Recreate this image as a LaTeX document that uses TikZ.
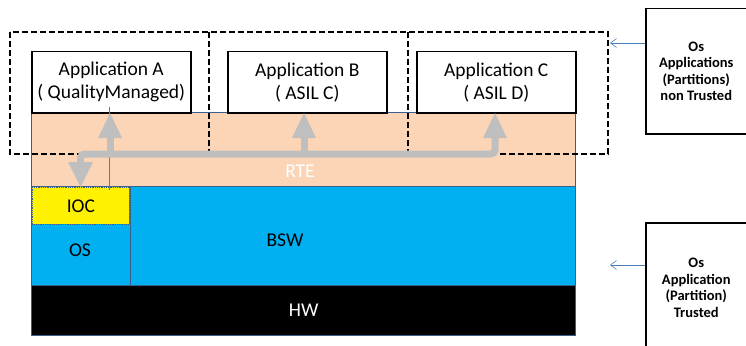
\documentclass[tikz,border=0pt]{standalone}
\usepackage{fontspec}
\setmainfont{Carlito}
\usetikzlibrary{arrows.meta}
\definecolor{rte}{HTML}{FBD5B5}
\definecolor{edge}{HTML}{3A5F8F}
\definecolor{bsw}{HTML}{00B0F0}
\definecolor{arr}{HTML}{BFBFBF}
\definecolor{thinblue}{HTML}{4A7EBB}
\tikzset{
  txt/.style={font=\fontsize{19.5}{23}\selectfont},
  layer/.style={draw=edge, line width=1.2pt, inner sep=0pt},
  app/.style={draw=black, line width=1.5pt, fill=white, inner sep=0pt, align=center, txt},
  part/.style={draw=black, line width=1.5pt, dash pattern=on 6pt off 3pt},
  side/.style={draw=black, line width=1.5pt, fill=white, inner sep=0pt, align=center, font=\bfseries\fontsize{14.5}{16.5}\selectfont},
  bar/.style={draw=arr, line width=7pt, rounded corners=4pt},
  head/.style={fill=arr, draw=none},
  ptr/.style={draw=thinblue, line width=0.6pt, -{Straight Barb[length=6pt,width=9pt,line width=0.6pt]}}
}
\begin{document}
\begin{tikzpicture}[x=1pt,y=-1pt]
\useasboundingbox (0,0) rectangle (746,345);
% layers
\node[layer, fill=rte, minimum width=544pt, minimum height=74pt, anchor=north west] (rte) at (31,112) {};
\node[text=white, txt] (rtet) at (300,171) {RTE};
\node[layer, fill=bsw, minimum width=445pt, minimum height=99pt, anchor=north west] (bsw) at (130,186) {};
\node[txt] (bswt) at (285,240) {BSW};
\node[layer, fill=bsw, minimum width=99pt, minimum height=99pt, anchor=north west] (os) at (31,186) {};
\node[draw=edge, densely dotted, line width=0.8pt, fill=yellow, minimum width=97pt, minimum height=37pt, anchor=north west, inner sep=0pt, txt] (ioc) at (32,187) {IOC};
\node[txt] (ost) at (80,250) {OS};
\node[layer, fill=black, minimum width=544pt, minimum height=50pt, anchor=north west, text=white, txt] (hw) at (31,285) {HW};
% applications
\node[app, minimum width=159pt, minimum height=61pt, anchor=north west] (appa) at (31,51) {Application A\\( QualityManaged)};
\node[app, minimum width=159pt, minimum height=61pt, anchor=north west] (appb) at (227,51) {Application B\\( ASIL C)};
\node[app, minimum width=159pt, minimum height=61pt, anchor=north west] (appc) at (416,51) {Application C\\( ASIL D)};
% partitions
\coordinate (p1) at (10,32);
\coordinate (p4) at (608,154);
\coordinate (m1) at (209,32);
\coordinate (m2) at (408,32);
\draw[part] (p1) rectangle (p4);
\draw[part] (m1) -- (m1 |- p4);
\draw[part] (m2) -- (m2 |- p4);
% thin line
\coordinate (t1) at (109,107);
\coordinate (t2) at (109,190);
\draw[draw=thinblue, line width=0.6pt] (t1) -- (t2);
% gray arrows
\coordinate (d) at (80.5,162);
\coordinate (ua) at (110,138);
\coordinate (ub) at (304,138);
\coordinate (uc) at (495,138);
\draw[bar] (d) -- (80.5,154) -- (495,154) -- (uc);
\draw[arr, line width=7pt] (ua) -- (110,154);
\draw[arr, line width=7pt] (ub) -- (304,154);
\fill[head] (68,162) -- (93,162) -- (80.5,187) -- cycle;
\fill[head] (98,138) -- (122,138) -- (110,113) -- cycle;
\fill[head] (292,138) -- (316,138) -- (304,113) -- cycle;
\fill[head] (483,138) -- (507,138) -- (495,113) -- cycle;
% side boxes
\node[side, minimum width=101pt, minimum height=125pt, anchor=north west] (s1) at (645,8) {Os\\Applications\\(Partitions)\\non Trusted};
\node[side, minimum width=101pt, minimum height=130pt, anchor=north west] (s2) at (645,222) {Os\\Application\\(Partition)\\Trusted};
\coordinate (e1) at (610,43);
\coordinate (e2) at (610,265);
\draw[ptr] (s1.west |- e1) -- (e1);
\draw[ptr] (s2.west |- e2) -- (e2);
\end{tikzpicture}
\end{document}
